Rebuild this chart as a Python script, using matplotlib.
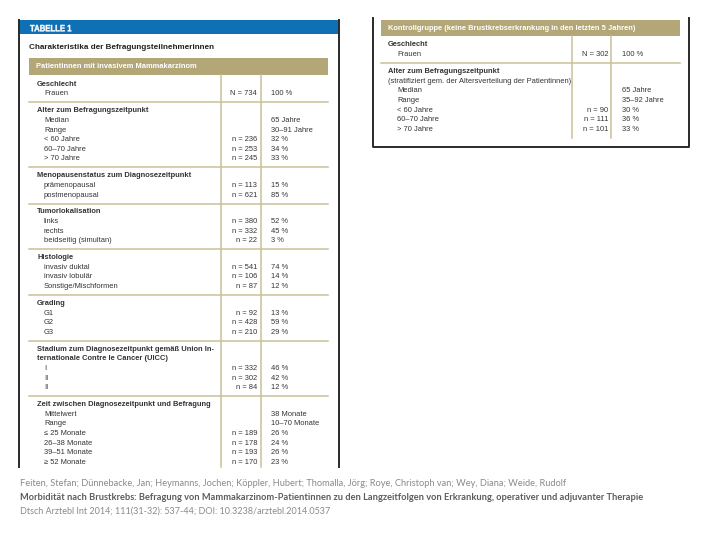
import matplotlib
matplotlib.use("Agg")
import matplotlib.pyplot as plt
from matplotlib.textpath import TextPath
from matplotlib.patches import PathPatch
from matplotlib.font_manager import FontProperties
from matplotlib.transforms import Affine2D

# ── Daten ───────────────────────────────────────────────────────────────────
TABLE_LABEL = "TABELLE 1"
TABLE_TITLE = "Charakteristika der Befragungsteilnehmerinnen"

PATIENT_GROUP = "Patientinnen mit invasivem Mammakarzinom"
PATIENT_TITLES = [
    ["Geschlecht"],
    ["Alter zum Befragungszeitpunkt"],
    ["Menopausenstatus zum Diagnosezeitpunkt"],
    ["Tumorlokalisation"],
    ["Histologie"],
    ["Grading"],
    ["Stadium zum Diagnosezeitpunkt gemäß Union In-",
     "ternationale Contre le Cancer (UICC)"],
    ["Zeit zwischen Diagnosezeitpunkt und Befragung"],
]
PATIENT_ROWS = [
    ["Frauen"],
    ["Median", "Range", "< 60 Jahre", "60–70 Jahre", "> 70 Jahre"],
    ["prämenopausal", "postmenopausal"],
    ["links", "rechts", "beidseitig (simultan)"],
    ["invasiv duktal", "invasiv lobulär", "Sonstige/Mischformen"],
    ["G1", "G2", "G3"],
    ["I", "II", "II"],
    ["Mittelwert", "Range", "≤ 25 Monate", "26–38 Monate", "39–51 Monate",
     "≥ 52 Monate"],
]
PATIENT_N = [
    ["N = 734"],
    ["", "", "n = 236", "n = 253", "n = 245"],
    ["n = 113", "n = 621"],
    ["n = 380", "n = 332", "n = 22"],
    ["n = 541", "n = 106", "n = 87"],
    ["n = 92", "n = 428", "n = 210"],
    ["n = 332", "n = 302", "n = 84"],
    ["", "", "n = 189", "n = 178", "n = 193", "n = 170"],
]
PATIENT_PCT = [
    ["100 %"],
    ["65 Jahre", "30–91 Jahre", "32 %", "34 %", "33 %"],
    ["15 %", "85 %"],
    ["52 %", "45 %", "3 %"],
    ["74 %", "14 %", "12 %"],
    ["13 %", "59 %", "29 %"],
    ["46 %", "42 %", "12 %"],
    ["38 Monate", "10–70 Monate", "26 %", "24 %", "26 %", "23 %"],
]

CONTROL_GROUP = "Kontrollgruppe (keine Brustkrebserkrankung in den letzten 5 Jahren)"
CONTROL_TITLES = [["Geschlecht"], ["Alter zum Befragungszeitpunkt"]]
CONTROL_NOTES = ["", "(stratifiziert gem. der Altersverteilung der Patientinnen)"]
CONTROL_ROWS = [
    ["Frauen"],
    ["Median", "Range", "< 60 Jahre", "60–70 Jahre", "> 70 Jahre"],
]
CONTROL_N = [["N = 302"], ["", "", "n = 90", "n = 111", "n = 101"]]
CONTROL_PCT = [["100 %"], ["65 Jahre", "35–92 Jahre", "30 %", "36 %", "33 %"]]

FOOTER = [
    "Feiten, Stefan; Dünnebacke, Jan; Heymanns, Jochen; Köppler, Hubert; "
    "Thomalla, Jörg; Roye, Christoph van; Wey, Diana; Weide, Rudolf",
    "Morbidität nach Brustkrebs: Befragung von Mammakarzinom-Patientinnen zu den "
    "Langzeitfolgen von Erkrankung, operativer und adjuvanter Therapie",
    "Dtsch Arztebl Int 2014; 111(31-32): 537-44; DOI: 10.3238/arztebl.2014.0537",
]

# ── Stil ────────────────────────────────────────────────────────────────────
BLUE  = "#1070b4"
GOLD  = "#b3a677"
RULE  = "#c9c197"
FRAME = "#2a2a2a"
TEXT  = "#333333"
FS    = 5.4
PITCH = 9.65
GAP   = 16.8
TABLE_FONT = ["Liberation Sans", "DejaVu Sans"]

fig = plt.figure(figsize=(7.2, 5.4), dpi=100, facecolor="white")
ax = fig.add_axes([0, 0, 1, 1])
ax.set_xlim(0, 720)
ax.set_ylim(540, 0)
ax.axis("off")


def draw_block(y, titles, rows, ns, pcts, lx, rx, nx, px, x0, x1, notes=None):
    """Abschnitte untereinander zeichnen, gibt letzte y-Position zurück."""
    for i, (tl, rw, nn, pp) in enumerate(zip(titles, rows, ns, pcts)):
        if i > 0:
            ax.plot([x0, x1], [y - 8.4, y - 8.4], color=RULE, lw=1.1)
        for line in tl:
            ax.text(lx, y, line, fontsize=FS, fontweight="bold", color=TEXT,
                    va="center", ha="left", family=TABLE_FONT)
            y += PITCH
        if notes and notes[i]:
            ax.text(lx, y, notes[i], fontsize=FS, color=TEXT,
                    va="center", ha="left", family=TABLE_FONT)
            y += PITCH
        for lab, n, p in zip(rw, nn, pp):
            ax.text(rx, y, lab, fontsize=FS, color=TEXT, va="center",
                    ha="left", family=TABLE_FONT)
            ax.text(nx, y, n, fontsize=FS, color=TEXT, va="center",
                    ha="right", family=TABLE_FONT)
            ax.text(px, y, p, fontsize=FS, color=TEXT, va="center",
                    ha="left", family=TABLE_FONT)
            y += PITCH
        y += GAP - PITCH
    return y


# ── linke Tabelle ───────────────────────────────────────────────────────────
ax.fill_between([18, 339], 20, 34, color=BLUE, lw=0)
# schmale, fette Kopfzeile: Textpfad horizontal gestaucht
tp = TextPath((0, 0), TABLE_LABEL, size=9.2,
              prop=FontProperties(family="Liberation Sans", weight="bold"))
tr = Affine2D().scale(0.84, -1.0).translate(30, 31.3)
ax.add_patch(PathPatch(tr.transform_path(tp), facecolor="white",
                       edgecolor="white", lw=0.3))
ax.plot([19, 19], [20, 467], color=FRAME, lw=1.4)
ax.plot([338.5, 338.5], [20, 467], color=FRAME, lw=1.4)
ax.text(29, 47.5, TABLE_TITLE, fontsize=5.9, fontweight="bold", color="#222",
        va="center", ha="left", family=TABLE_FONT)
ax.fill_between([29, 328], 58, 75, color=GOLD, lw=0)
ax.text(36, 66.5, PATIENT_GROUP, fontsize=FS, fontweight="bold", color="white",
        va="center", ha="left", family=TABLE_FONT)
for cx in (221, 261):
    ax.plot([cx, cx], [75, 467], color=RULE, lw=1.1)
draw_block(84.3, PATIENT_TITLES, PATIENT_ROWS, PATIENT_N, PATIENT_PCT,
           37, 44, 257, 271, 29, 328)

# ── rechte Tabelle ──────────────────────────────────────────────────────────
ax.plot([372.5, 372.5, 689, 689], [18, 147, 147, 18], color=FRAME, lw=1.4)
ax.fill_between([381, 680], 19.5, 36, color=GOLD, lw=0)
ax.text(388, 28, CONTROL_GROUP, fontsize=FS, fontweight="bold", color="white",
        va="center", ha="left", family=TABLE_FONT)
for cx in (572, 611):
    ax.plot([cx, cx], [36, 138], color=RULE, lw=1.1)
draw_block(45, CONTROL_TITLES, CONTROL_ROWS, CONTROL_N, CONTROL_PCT,
           388, 397, 608, 622, 381, 680, notes=CONTROL_NOTES)

# ── Quellenangabe ───────────────────────────────────────────────────────────
FOOT_FONT = ["Lato", "DejaVu Sans"]
ax.text(20, 483.5, FOOTER[0], fontsize=6.65, color="#8a8a8a", va="center",
        ha="left", family=FOOT_FONT)
ax.text(20, 497, FOOTER[1], fontsize=6.65, fontweight="bold", color="#5c5c5c",
        va="center", ha="left", family=FOOT_FONT)
ax.text(20, 511, FOOTER[2], fontsize=6.5, color="#8a8a8a", va="center",
        ha="left", family=FOOT_FONT)

fig.savefig("out.png", dpi=100, facecolor="white")
